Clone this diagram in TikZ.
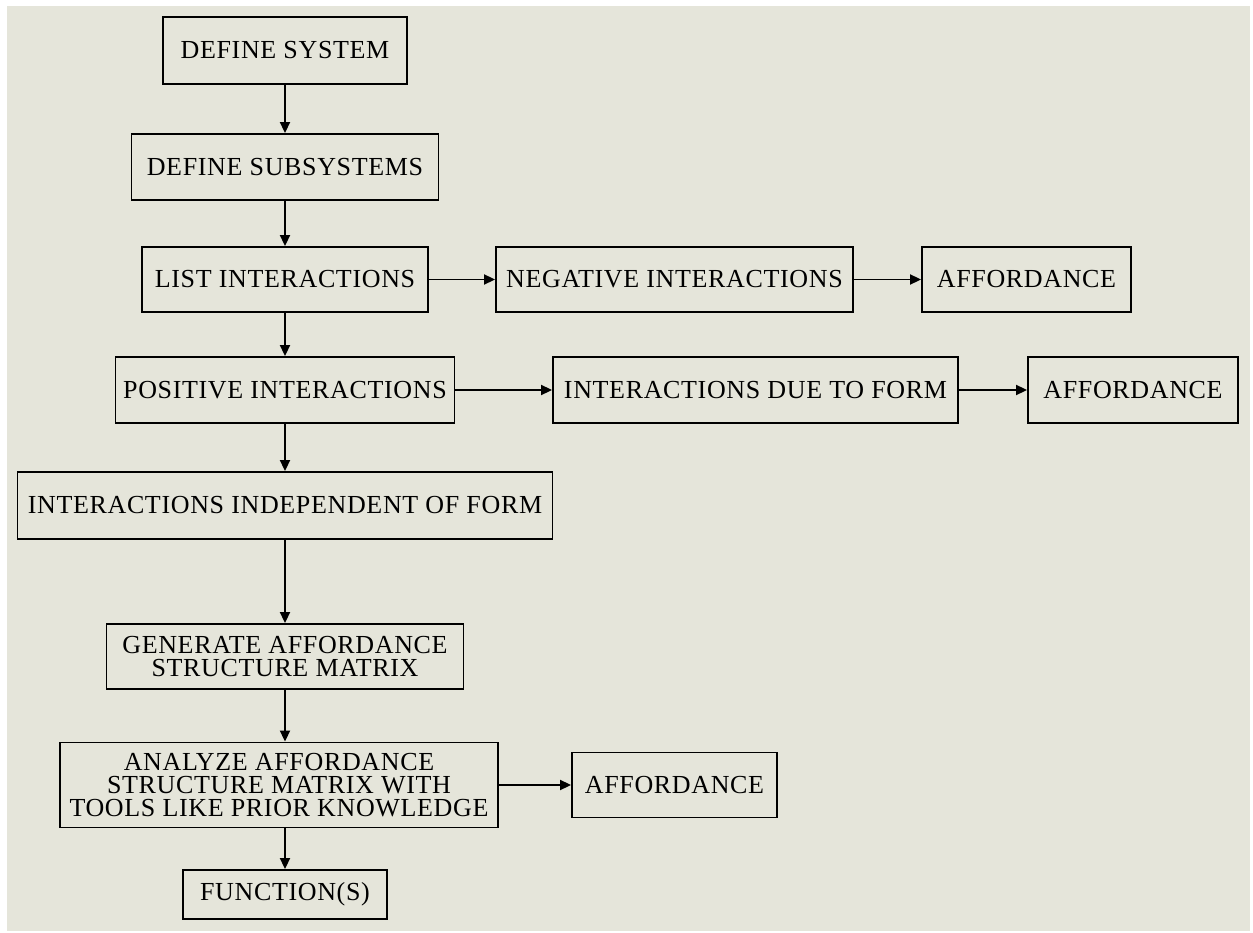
\documentclass[tikz,border=0pt]{standalone}
\usepackage{fontspec}
\setmainfont{Liberation Serif}[LetterSpace=2.5]
\usepackage{xcolor}
\usetikzlibrary{arrows.meta}
\definecolor{paper}{RGB}{229,229,218}

\begin{document}
\begin{tikzpicture}[x=1pt,y=-1pt,
    box/.style={draw, line width=1.9pt, inner sep=0pt, align=center,
      font=\fontsize{26}{23}\selectfont},
    arr/.style={line width=1.9pt, -{Triangle[length=11pt,width=10pt]}}]
        \useasboundingbox (0,0) rectangle (1253,933);
        \fill[paper] (7,6) rectangle (1250,931);

        % main column
        \node[box, minimum width=244pt, minimum height=67pt] (sys) at (285,50.5) {DEFINE SYSTEM};
        \node[box, minimum width=307pt, minimum height=66pt] (sub) at (285,167) {DEFINE SUBSYSTEMS};
        \node[box, minimum width=286pt, minimum height=65pt] (list) at (285,279.5) {LIST INTERACTIONS};
        \node[box, minimum width=339pt, minimum height=66pt] (pos) at (285,390) {POSITIVE INTERACTIONS};
        \node[box, minimum width=535pt, minimum height=67pt] (indep) at (285,505.5) {INTERACTIONS INDEPENDENT OF FORM};
        \node[box, minimum width=357pt, minimum height=65pt] (gen) at (285,656.5) {GENERATE AFFORDANCE\\STRUCTURE MATRIX};
        \node[box, minimum width=438pt, minimum height=85pt] (ana) at (279,785) {ANALYZE AFFORDANCE\\STRUCTURE MATRIX WITH\\TOOLS LIKE PRIOR KNOWLEDGE};
        \node[box, minimum width=204pt, minimum height=49pt] (fun) at (285,894.5) {FUNCTION(S)};

        % side branches
        \node[box, minimum width=357pt, minimum height=65pt] (neg) at (674.5,279.5) {NEGATIVE INTERACTIONS};
        \node[box, minimum width=209pt, minimum height=65pt] (aff1) at (1026.5,279.5) {AFFORDANCE};
        \node[box, minimum width=405pt, minimum height=66pt] (form) at (755.5,390) {INTERACTIONS DUE TO FORM};
        \node[box, minimum width=210pt, minimum height=66pt] (aff2) at (1133,390) {AFFORDANCE};
        \node[box, minimum width=205pt, minimum height=65pt] (aff3) at (674.5,785) {AFFORDANCE};

        \draw[arr] (sys) -- (sub);
        \draw[arr] (sub) -- (list);
        \draw[arr] (list) -- (pos);
        \draw[arr] (pos) -- (indep);
        \draw[arr] (indep) -- (gen);
        \draw[arr] (gen) -- (gen |- ana.north);
        \draw[arr] (fun |- ana.south) -- (fun);

        \draw[arr] (list) -- (neg);
        \draw[arr] (neg) -- (aff1);
        \draw[arr] (pos) -- (form);
        \draw[arr] (form) -- (aff2);
        \draw[arr] (ana) -- (aff3);
    \end{tikzpicture}
\end{document}
